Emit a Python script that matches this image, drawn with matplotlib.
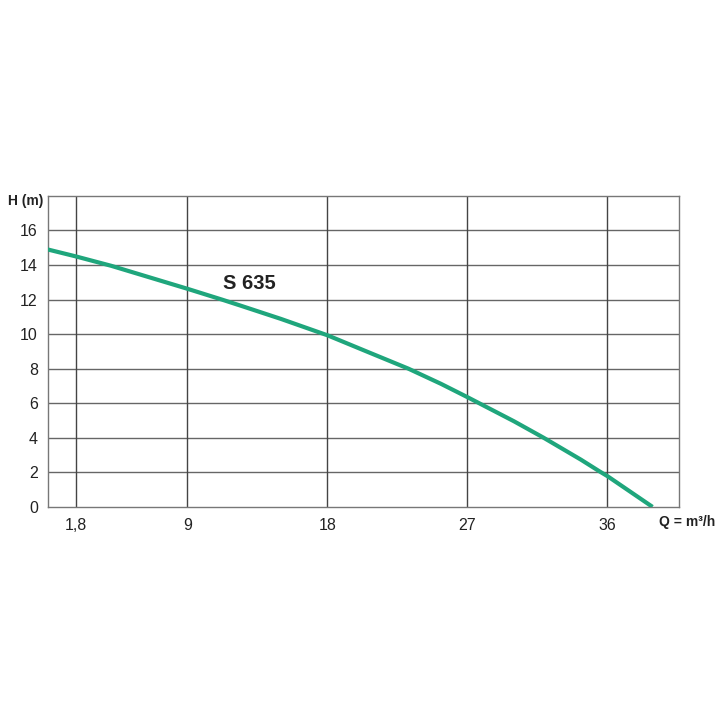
import matplotlib
matplotlib.use('Agg')
import matplotlib.pyplot as plt

plt.rcParams['font.family'] = ['Liberation Sans', 'DejaVu Sans']

# pump curve S 635
q = [0, 1.8, 4.1, 9, 11.2, 12.4, 15, 18, 20.5, 23.2, 25.3, 27, 30, 31.9, 34.3, 35.5, 36, 38.9]
h = [14.9, 14.5, 13.95, 12.62, 12.0, 11.65, 10.88, 9.93, 9.0, 8.0, 7.12, 6.35, 4.95, 4.0, 2.73, 2.05, 1.78, 0]

xticks = [1.8, 9, 18, 27, 36]
xlabels = ['1,8', '9', '18', '27', '36']
yticks = [0, 2, 4, 6, 8, 10, 12, 14, 16]
ygrid = [2, 4, 6, 8, 10, 12, 14, 16]

fig = plt.figure(figsize=(7.2, 7.2), dpi=100)
ax = fig.add_axes([0.066, 0.296, 0.877, 0.432])

ax.set_xlim(0, 40.6)
ax.set_ylim(0, 18)

for y in ygrid:
    ax.axhline(y, color='#666666', lw=1.0, zorder=1)
for x in xticks:
    ax.axvline(x, color='#444444', lw=1.0, zorder=1)

ax.plot(q, h, color='#1fa67c', lw=3.0, solid_capstyle='butt', solid_joinstyle='round', zorder=3)

ax.text(12.95, 12.95, 'S 635', fontsize=14.5, fontweight='bold', ha='center', va='center', color='#222222')

ax.set_xticks(xticks)
ax.set_xticklabels(xlabels)
ax.set_yticks(yticks)
ax.tick_params(length=0, labelsize=11.5, colors='#222222')
ax.tick_params(axis='y', pad=7)
ax.tick_params(axis='x', pad=8)

for s in ax.spines.values():
    s.set_color('#777777')
    s.set_linewidth(1.0)

fig.text(8/720, 1 - 201/720, 'H (m)', fontsize=10, fontweight='bold', ha='left', va='center', color='#222222')
fig.text(659/720, 1 - 522/720, 'Q = m³/h', fontsize=10, fontweight='bold', ha='left', va='center', color='#222222')

fig.savefig('out.png', dpi=100)
